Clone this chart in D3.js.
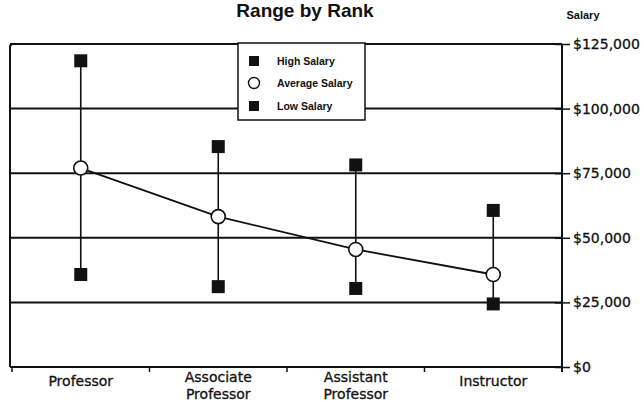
<!DOCTYPE html>
<html>
<head>
<meta charset="utf-8">
<script src="https://cdn.jsdelivr.net/npm/d3@7"></script>
<style>
  html, body { margin: 0; padding: 0; background: #fff; }
  svg { display: block; }
</style>
</head>
<body>
<svg id="chart" width="644" height="403"></svg>
<script>
// Faculty salary range by academic rank
const ranks = ["Professor", "Associate Professor", "Assistant Professor", "Instructor"];
const highSalary = [118500, 85300, 78200, 60600];
const averageSalary = [77000, 58200, 45500, 35800];
const lowSalary = [35800, 31100, 30400, 24400];
const salaryTicks = [0, 25000, 50000, 75000, 100000, 125000];
const legendItems = ["High Salary", "Average Salary", "Low Salary"];

const plot = { left: 10, right: 562, top: 44, bottom: 367 };

const svg = d3.select("#chart");

const x = d3.scaleBand().domain(ranks).range([12, plot.right]).paddingInner(0).paddingOuter(0);
const y = d3.scaleLinear().domain([0, 125000]).range([plot.bottom, plot.top]);
const cx = r => x(r) + x.bandwidth() / 2;

const ink = "#111";
const sansAxis = "'DejaVu Sans', sans-serif";
const sansSmall = "'Liberation Sans', Arial, sans-serif";

// Horizontal gridlines at each salary tick
svg.append("g")
  .selectAll("line")
  .data(salaryTicks)
  .join("line")
  .attr("x1", plot.left)
  .attr("x2", plot.right)
  .attr("y1", d => y(d))
  .attr("y2", d => y(d))
  .attr("stroke", ink)
  .attr("stroke-width", 2);

// Left frame edge
svg.append("path")
  .attr("d", `M${plot.left},${plot.bottom} L${plot.left},${plot.top + 3} Q${plot.left},${plot.top} ${plot.left + 3},${plot.top}`)
  .attr("fill", "none")
  .attr("stroke", ink)
  .attr("stroke-width", 2);

// Right value axis
const yAxis = d3.axisRight(y)
  .tickValues(salaryTicks)
  .tickSizeInner(8)
  .tickSizeOuter(0)
  .tickPadding(3)
  .tickFormat(d => "$" + d3.format(",")(d));

const yg = svg.append("g")
  .attr("transform", `translate(${plot.right},0)`)
  .call(yAxis);
yg.select(".domain")
  .attr("d", `M0,${plot.top} V${plot.bottom + 5}`)
  .attr("stroke", ink)
  .attr("stroke-width", 2);
yg.selectAll(".tick line")
  .attr("x1", -7)
  .attr("x2", 8)
  .attr("stroke", ink)
  .attr("stroke-width", 1.5);
yg.selectAll(".tick text")
  .attr("x", 11)
  .attr("fill", ink)
  .attr("stroke", ink)
  .attr("stroke-width", 0.3)
  .attr("font-family", sansAxis)
  .attr("font-size", 14);

// Category axis: tick marks on band boundaries, labels centred in each band
const xg = svg.append("g")
  .attr("transform", `translate(0,${plot.bottom})`)
  .call(d3.axisBottom(x).tickSize(0).tickPadding(0));
xg.select(".domain").remove();
xg.selectAll(".tick text").each(function (d) {
  const t = d3.select(this);
  const words = d.split(" ");
  t.text(null)
    .attr("y", 0)
    .attr("dy", null)
    .attr("fill", ink)
    .attr("stroke", ink)
    .attr("stroke-width", 0.3)
    .attr("font-family", sansAxis)
    .attr("font-size", 14);
  words.forEach((w, i) => {
    t.append("tspan")
      .attr("x", 0)
      .attr("y", (words.length > 1 ? 15 : 19) + i * 16.5)
      .text(w);
  });
});
const bounds = ranks.map(r => x(r)).concat([x.range()[1]]);
svg.append("g")
  .selectAll("line")
  .data(bounds)
  .join("line")
  .attr("x1", d => d)
  .attr("x2", d => d)
  .attr("y1", plot.bottom)
  .attr("y2", plot.bottom + 5)
  .attr("stroke", ink)
  .attr("stroke-width", 1.5);

// Range whiskers from low to high salary
svg.append("g")
  .selectAll("line")
  .data(ranks)
  .join("line")
  .attr("x1", d => cx(d))
  .attr("x2", d => cx(d))
  .attr("y1", (d, i) => y(highSalary[i]))
  .attr("y2", (d, i) => y(lowSalary[i]))
  .attr("stroke", ink)
  .attr("stroke-width", 1.6);

// Average salary line
svg.append("path")
  .datum(averageSalary)
  .attr("d", d3.line().x((d, i) => cx(ranks[i])).y(d => y(d)))
  .attr("fill", "none")
  .attr("stroke", ink)
  .attr("stroke-width", 1.8);

const sq = 13;
// High and low salary markers
[highSalary, lowSalary].forEach(series => {
  svg.append("g")
    .selectAll("rect")
    .data(series)
    .join("rect")
    .attr("x", (d, i) => cx(ranks[i]) - sq / 2)
    .attr("y", d => y(d) - sq / 2)
    .attr("width", sq)
    .attr("height", sq)
    .attr("fill", ink);
});

// Average salary markers
svg.append("g")
  .selectAll("circle")
  .data(averageSalary)
  .join("circle")
  .attr("cx", (d, i) => cx(ranks[i]))
  .attr("cy", d => y(d))
  .attr("r", 7)
  .attr("fill", "#fff")
  .attr("stroke", ink)
  .attr("stroke-width", 1.6);

// Legend
const lg = svg.append("g");
lg.append("rect")
  .attr("x", 238).attr("y", 43)
  .attr("width", 127).attr("height", 77)
  .attr("fill", "#fff")
  .attr("stroke", ink)
  .attr("stroke-width", 1.5);
const rowY = [61, 83, 106];
legendItems.forEach((label, i) => {
  if (i === 1) {
    lg.append("circle")
      .attr("cx", 254).attr("cy", rowY[i]).attr("r", 5.5)
      .attr("fill", "#fff").attr("stroke", ink).attr("stroke-width", 1.4);
  } else {
    lg.append("rect")
      .attr("x", 249).attr("y", rowY[i] - 5)
      .attr("width", 10).attr("height", 10)
      .attr("fill", ink);
  }
  lg.append("text")
    .attr("x", 277).attr("y", rowY[i])
    .attr("dy", "0.35em")
    .attr("font-family", sansSmall)
    .attr("font-weight", "bold")
    .attr("font-size", 10.5)
    .attr("fill", ink)
    .text(label);
});

// Titles
svg.append("text")
  .attr("x", 305).attr("y", 17)
  .attr("text-anchor", "middle")
  .attr("font-family", sansSmall)
  .attr("font-weight", "bold")
  .attr("font-size", 19)
  .attr("fill", ink)
  .text("Range by Rank");

svg.append("text")
  .attr("x", 583).attr("y", 19)
  .attr("text-anchor", "middle")
  .attr("font-family", sansSmall)
  .attr("font-weight", "bold")
  .attr("font-size", 11)
  .attr("fill", ink)
  .text("Salary");
</script>
</body>
</html>
